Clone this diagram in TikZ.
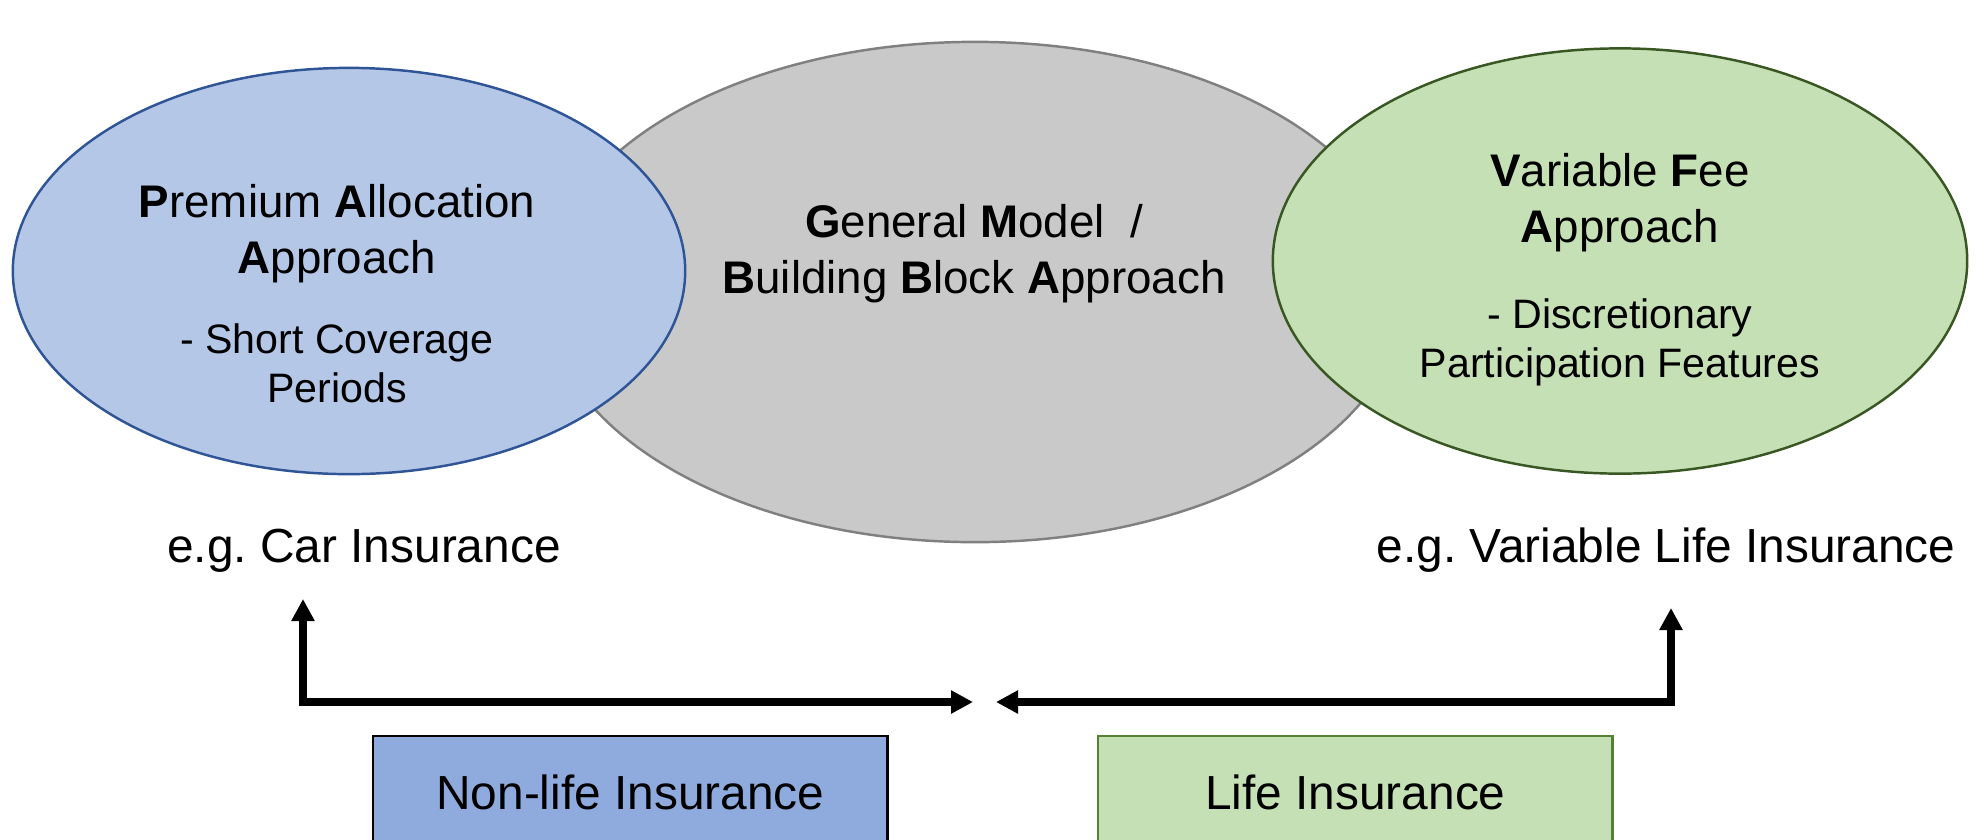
\documentclass[tikz,border=0pt]{standalone}
\usepackage{fontspec}
\setmainfont{Liberation Sans}
\usetikzlibrary{shapes.geometric,arrows.meta}

\definecolor{paafill}{HTML}{B4C7E7}
\definecolor{paaline}{HTML}{2F5597}
\definecolor{gmmfill}{HTML}{C9C9C9}
\definecolor{gmmline}{HTML}{808080}
\definecolor{vfafill}{HTML}{C5E0B4}
\definecolor{vfaline}{HTML}{385723}
\definecolor{nonlifefill}{HTML}{8FAADC}
\definecolor{lifeline}{HTML}{548235}

% centred lines, baseline on the first one
\newcommand{\rows}[1]{\begin{tabular}[t]{@{}c@{}}#1\end{tabular}}

\tikzset{
  model/.style={ellipse, draw, line width=0.7pt, inner sep=0pt},
  title/.style={anchor=base, font=\fontsize{13}{16}\selectfont},
  note/.style={anchor=base, font=\fontsize{11.7}{14.2}\selectfont},
  example/.style={anchor=base, font=\fontsize{13.6}{16}\selectfont},
  branch/.style={draw, line width=0.7pt, anchor=north west, minimum width=5.14cm,
    minimum height=1.12cm, font=\fontsize{13.6}{16}\selectfont},
  link/.style={line width=2.3pt,
    {Triangle[length=0.22cm,width=0.22cm]}-{Triangle[length=0.22cm,width=0.22cm]}},
}

\begin{document}
\frenchspacing
\begin{tikzpicture}[x=0.01cm, y=-0.01cm]

  \useasboundingbox (0,0) rectangle (1977,839);
  \clip (0,0) rectangle (1977,839);

  % measurement models
  \node[model, fill=gmmfill, draw=gmmline, minimum width=8.6cm, minimum height=5.0cm] (gmm) at (975,292) {};
  \node[model, fill=paafill, draw=paaline, minimum width=6.72cm, minimum height=4.06cm] (paa) at (349,271) {};
  \node[model, fill=vfafill, draw=vfaline, minimum width=6.94cm, minimum height=4.25cm] (vfa) at (1620,261) {};

  \node[title] (gmm-title) at (974,237) {\rows{\textbf{G}eneral \textbf{M}odel\ \ /\\\textbf{B}uilding \textbf{B}lock \textbf{A}pproach}};

  \node[title] (paa-title) at (337,217) {\rows{\textbf{P}remium \textbf{A}llocation\\\textbf{A}pproach}};
  \node[note] (paa-note) at (337,353) {\rows{- Short Coverage\\Periods}};

  \node[title] (vfa-title) at (1620,186) {\rows{\textbf{V}ariable \textbf{F}ee\\\textbf{A}pproach}};
  \node[note] (vfa-note) at (1620,328) {\rows{- Discretionary\\Participation Features}};

  % examples
  \node[example] (car) at (364,562) {e.g. Car Insurance};
  \node[example] (varlife) at (1666,562) {e.g. Variable Life Insurance};

  % lines of business
  \node[branch, fill=nonlifefill, draw=black] (nonlife) at (372,735) {Non-life Insurance};
  \node[branch, fill=vfafill, draw=lifeline] (life) at (1097,735) {Life Insurance};

  % arrows
  \coordinate (carTip) at (303,599);
  \coordinate (leftBend) at (303,702);
  \coordinate (leftEnd) at (973,702);
  \coordinate (lifeTip) at (1671,608);
  \coordinate (rightBend) at (1671,702);
  \coordinate (rightEnd) at (996,702);

  \draw[link] (leftEnd) -- (leftBend) -- (carTip);
  \draw[link] (rightEnd) -- (rightBend) -- (lifeTip);

\end{tikzpicture}
\end{document}
